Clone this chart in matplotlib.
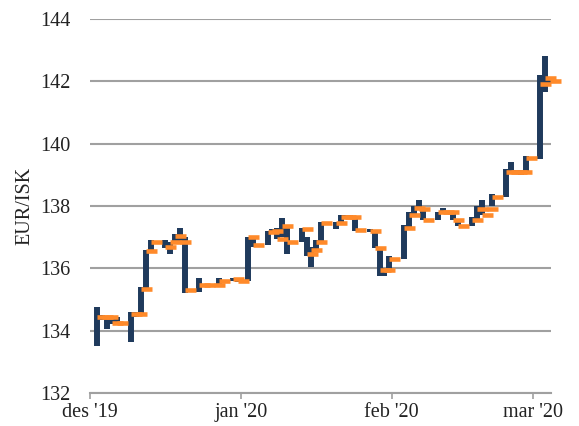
import matplotlib
matplotlib.use("Agg")
import matplotlib.pyplot as plt
import matplotlib.dates as mdates
import pandas as pd
import numpy as np

dates = ["2019-12-02", "2019-12-03", "2019-12-04", "2019-12-05", "2019-12-06",
         "2019-12-09", "2019-12-10", "2019-12-11", "2019-12-12", "2019-12-13",
         "2019-12-16", "2019-12-17", "2019-12-18", "2019-12-19", "2019-12-20",
         "2019-12-23", "2019-12-24", "2019-12-26", "2019-12-27", "2019-12-30", "2019-12-31",
         "2020-01-02", "2020-01-03", "2020-01-06", "2020-01-07", "2020-01-08",
         "2020-01-09", "2020-01-10", "2020-01-13", "2020-01-14", "2020-01-15",
         "2020-01-16", "2020-01-17", "2020-01-20", "2020-01-21", "2020-01-22",
         "2020-01-23", "2020-01-24", "2020-01-27", "2020-01-28", "2020-01-29",
         "2020-01-30", "2020-01-31", "2020-02-03", "2020-02-04", "2020-02-05",
         "2020-02-06", "2020-02-07", "2020-02-10", "2020-02-11", "2020-02-12",
         "2020-02-13", "2020-02-14", "2020-02-17", "2020-02-18", "2020-02-19",
         "2020-02-20", "2020-02-21", "2020-02-24", "2020-02-25", "2020-02-26",
         "2020-02-27", "2020-02-28", "2020-03-02", "2020-03-03", "2020-03-04"]

highs = [134.75, 134.50, 134.45, 134.45, 134.45,
         134.60, 134.60, 135.40, 136.60, 136.90,
         136.90, 136.85, 137.10, 137.30, 137.00,
         135.70, 135.50, 135.50, 135.70, 135.68, 135.65,
         137.00, 137.00, 137.20, 137.25, 137.30,
         137.60, 137.35, 137.30, 137.00, 136.70,
         136.90, 137.50, 137.50, 137.70, 137.70,
         137.70, 137.65, 137.25, 137.20, 136.70,
         136.00, 136.40, 137.40, 137.80, 138.00,
         138.20, 137.95, 137.80, 137.95, 137.85,
         137.75, 137.55, 137.65, 138.00, 138.20,
         137.95, 138.40, 139.20, 139.40, 139.15,
         139.15, 139.60, 142.20, 142.80, 142.05]

lows = [133.50, 134.35, 134.05, 134.20, 134.20,
        133.65, 134.45, 134.55, 135.35, 136.55,
        136.65, 136.45, 136.85, 136.85, 135.20,
        135.25, 135.40, 135.40, 135.45, 135.60, 135.55,
        135.60, 136.70, 136.75, 137.10, 136.95,
        137.00, 136.45, 136.85, 136.40, 136.05,
        136.55, 136.80, 137.25, 137.40, 137.60,
        137.60, 137.20, 137.18, 136.65, 135.75,
        135.75, 135.95, 136.30, 137.30, 137.70,
        137.90, 137.55, 137.55, 137.75, 137.75,
        137.55, 137.35, 137.35, 137.55, 137.70,
        137.85, 138.00, 138.30, 139.10, 139.05,
        139.00, 139.10, 139.50, 141.65, 141.95]

closes = [134.45, 134.45, 134.45, 134.25, 134.25,
          134.55, 134.55, 135.35, 136.55, 136.85,
          136.70, 136.85, 137.05, 136.85, 135.30,
          135.45, 135.45, 135.45, 135.60, 135.65, 135.60,
          137.00, 136.75, 137.15, 137.20, 136.95,
          137.35, 136.85, 137.25, 136.45, 136.60,
          136.85, 137.45, 137.45, 137.65, 137.65,
          137.65, 137.22, 137.20, 136.65, 135.95,
          135.95, 136.30, 137.30, 137.70, 137.95,
          137.90, 137.55, 137.80, 137.80, 137.80,
          137.55, 137.35, 137.55, 137.90, 137.70,
          137.90, 138.30, 139.10, 139.10, 139.10,
          139.10, 139.55, 141.90, 142.10, 142.00]

month_ticks = ["2019-12-01", "2020-01-01", "2020-02-01", "2020-03-01"]
month_labels = ["des '19", "jan '20", "feb '20", "mar '20"]
y_ticks = [132, 134, 136, 138, 140, 142, 144]

DARK = "#1f3a5c"
ORANGE = "#ff8a2a"
GRID = "#a0a0a0"
FONT = ["Liberation Serif", "DejaVu Serif"]

fig = plt.figure(figsize=(5.79, 4.26), dpi=100)
ax = fig.add_axes([0.1551, 0.0775, 0.9525 - 0.1551, 0.9554 - 0.0775])

x = mdates.date2num(pd.to_datetime(dates).to_numpy()) + 0.5

ax.vlines(x, lows, highs, colors=DARK, linewidth=4.3, capstyle="butt", zorder=3)
ax.hlines(closes, x, x + 2.26, colors=ORANGE, linewidth=3.3, capstyle="butt",
          zorder=4, clip_on=False)

x0 = mdates.date2num(pd.Timestamp("2019-12-01"))
ax.set_xlim(x0, x0 + 94.8)
ax.set_ylim(132, 144)

ax.set_yticks(y_ticks)
ax.set_yticklabels([str(v) for v in y_ticks], family=FONT, fontsize=14.5, color="#222222")
ax.yaxis.grid(True, color=GRID, linewidth=1.5, zorder=0)
ax.tick_params(axis="y", length=0, pad=14)

ax.set_xticks(mdates.date2num(pd.to_datetime(month_ticks).to_numpy()))
ax.set_xticklabels(month_labels, family=FONT, fontsize=14.5, color="#222222")
ax.tick_params(axis="x", length=4, width=1.2, color=GRID, direction="out", pad=3)

for s in ["left", "right", "top"]:
    ax.spines[s].set_visible(False)
ax.spines["bottom"].set_color(GRID)
ax.spines["bottom"].set_linewidth(1.5)
ax.set_axisbelow(True)

ax.set_ylabel("EUR/ISK", family=FONT, fontsize=14.5, color="#222222", labelpad=4)

fig.savefig("out.png", dpi=100)
